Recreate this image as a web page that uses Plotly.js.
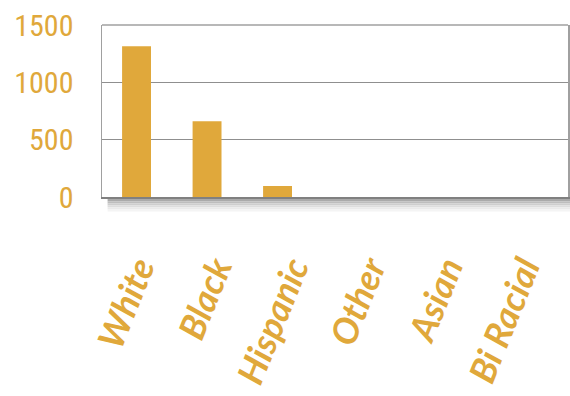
<!DOCTYPE html>
<html>
<head>
<meta charset="utf-8">
<script src="https://cdn.plot.ly/plotly-3.0.1.min.js"></script>
<style>html,body{margin:0;padding:0;background:#fff;}#chart{width:570px;height:396px;}</style>
</head>
<body>
<div id="chart"></div>
<script>
const categories = ["White", "Black", "Hispanic", "Other", "Asian", "Bi Racial"];
const counts = [1315, 660, 96, 0, 0, 0];
const yTicks = [0, 500, 1000, 1500];

const gold = "#E0A83B";

const shadow = [];
const shadeCols = ["#959595", "#aaaaaa", "#bdbdbd", "#cecece", "#dddddd", "#eaeaea", "#f4f4f4"];
shadeCols.forEach((c, i) => {
  shadow.push({
    type: "rect", xref: "paper", yref: "paper", layer: "below",
    x0: 0.012, x1: 1.01, y0: -0.012 - i * 0.012, y1: -0.0 - i * 0.012,
    line: {width: 0}, fillcolor: c
  });
});

const data = [
  {
    type: "bar", x: categories, y: counts, xaxis: "x", yaxis: "y",
    marker: {color: gold}, width: 0.41, hoverinfo: "skip"
  },
  {
    type: "bar", x: categories, y: counts, xaxis: "x2", yaxis: "y",
    marker: {color: "rgba(0,0,0,0)"}, hoverinfo: "skip"
  }
];

const layout = {
  width: 570, height: 396,
  margin: {l: 102, r: 2, t: 25, b: 199},
  paper_bgcolor: "#ffffff", plot_bgcolor: "#ffffff",
  showlegend: false,
  xaxis: {
    type: "category", range: [-0.49, 6.12],
    showticklabels: false, ticks: "",
    showline: true, linecolor: "#808080", linewidth: 2, mirror: false,
    showgrid: false, zeroline: false, fixedrange: true
  },
  xaxis2: {
    type: "category", overlaying: "x", side: "bottom", anchor: "y",
    range: [-0.48, 5.57],
    tickangle: -68, ticks: "", ticklabelstandoff: 42,
    tickfont: {family: "Lato, 'Open Sans', sans-serif", size: 36, color: gold, style: "italic", weight: "bold"},
    showline: false, showgrid: false, zeroline: false, fixedrange: true
  },
  yaxis: {
    range: [0, 1500], tickvals: yTicks, ticktext: yTicks.map(String),
    tickfont: {family: "'Liberation Sans Narrow', 'Roboto Condensed', Lato, sans-serif", size: 30, color: gold},
    ticklabelstandoff: 21, ticks: "",
    showgrid: true, gridcolor: "#8f8f8f", gridwidth: 1.5,
    showline: true, linecolor: "#a0a0a0", linewidth: 1.5, mirror: true,
    zeroline: false, fixedrange: true
  },
  shapes: shadow.concat([{
    type: "line", xref: "paper", yref: "paper", x0: 0, x1: 1, y0: 1, y1: 1,
    line: {color: "#a0a0a0", width: 1.5}
  }])
};

Plotly.newPlot("chart", data, layout, {displayModeBar: false, staticPlot: true});
</script>
</body>
</html>
